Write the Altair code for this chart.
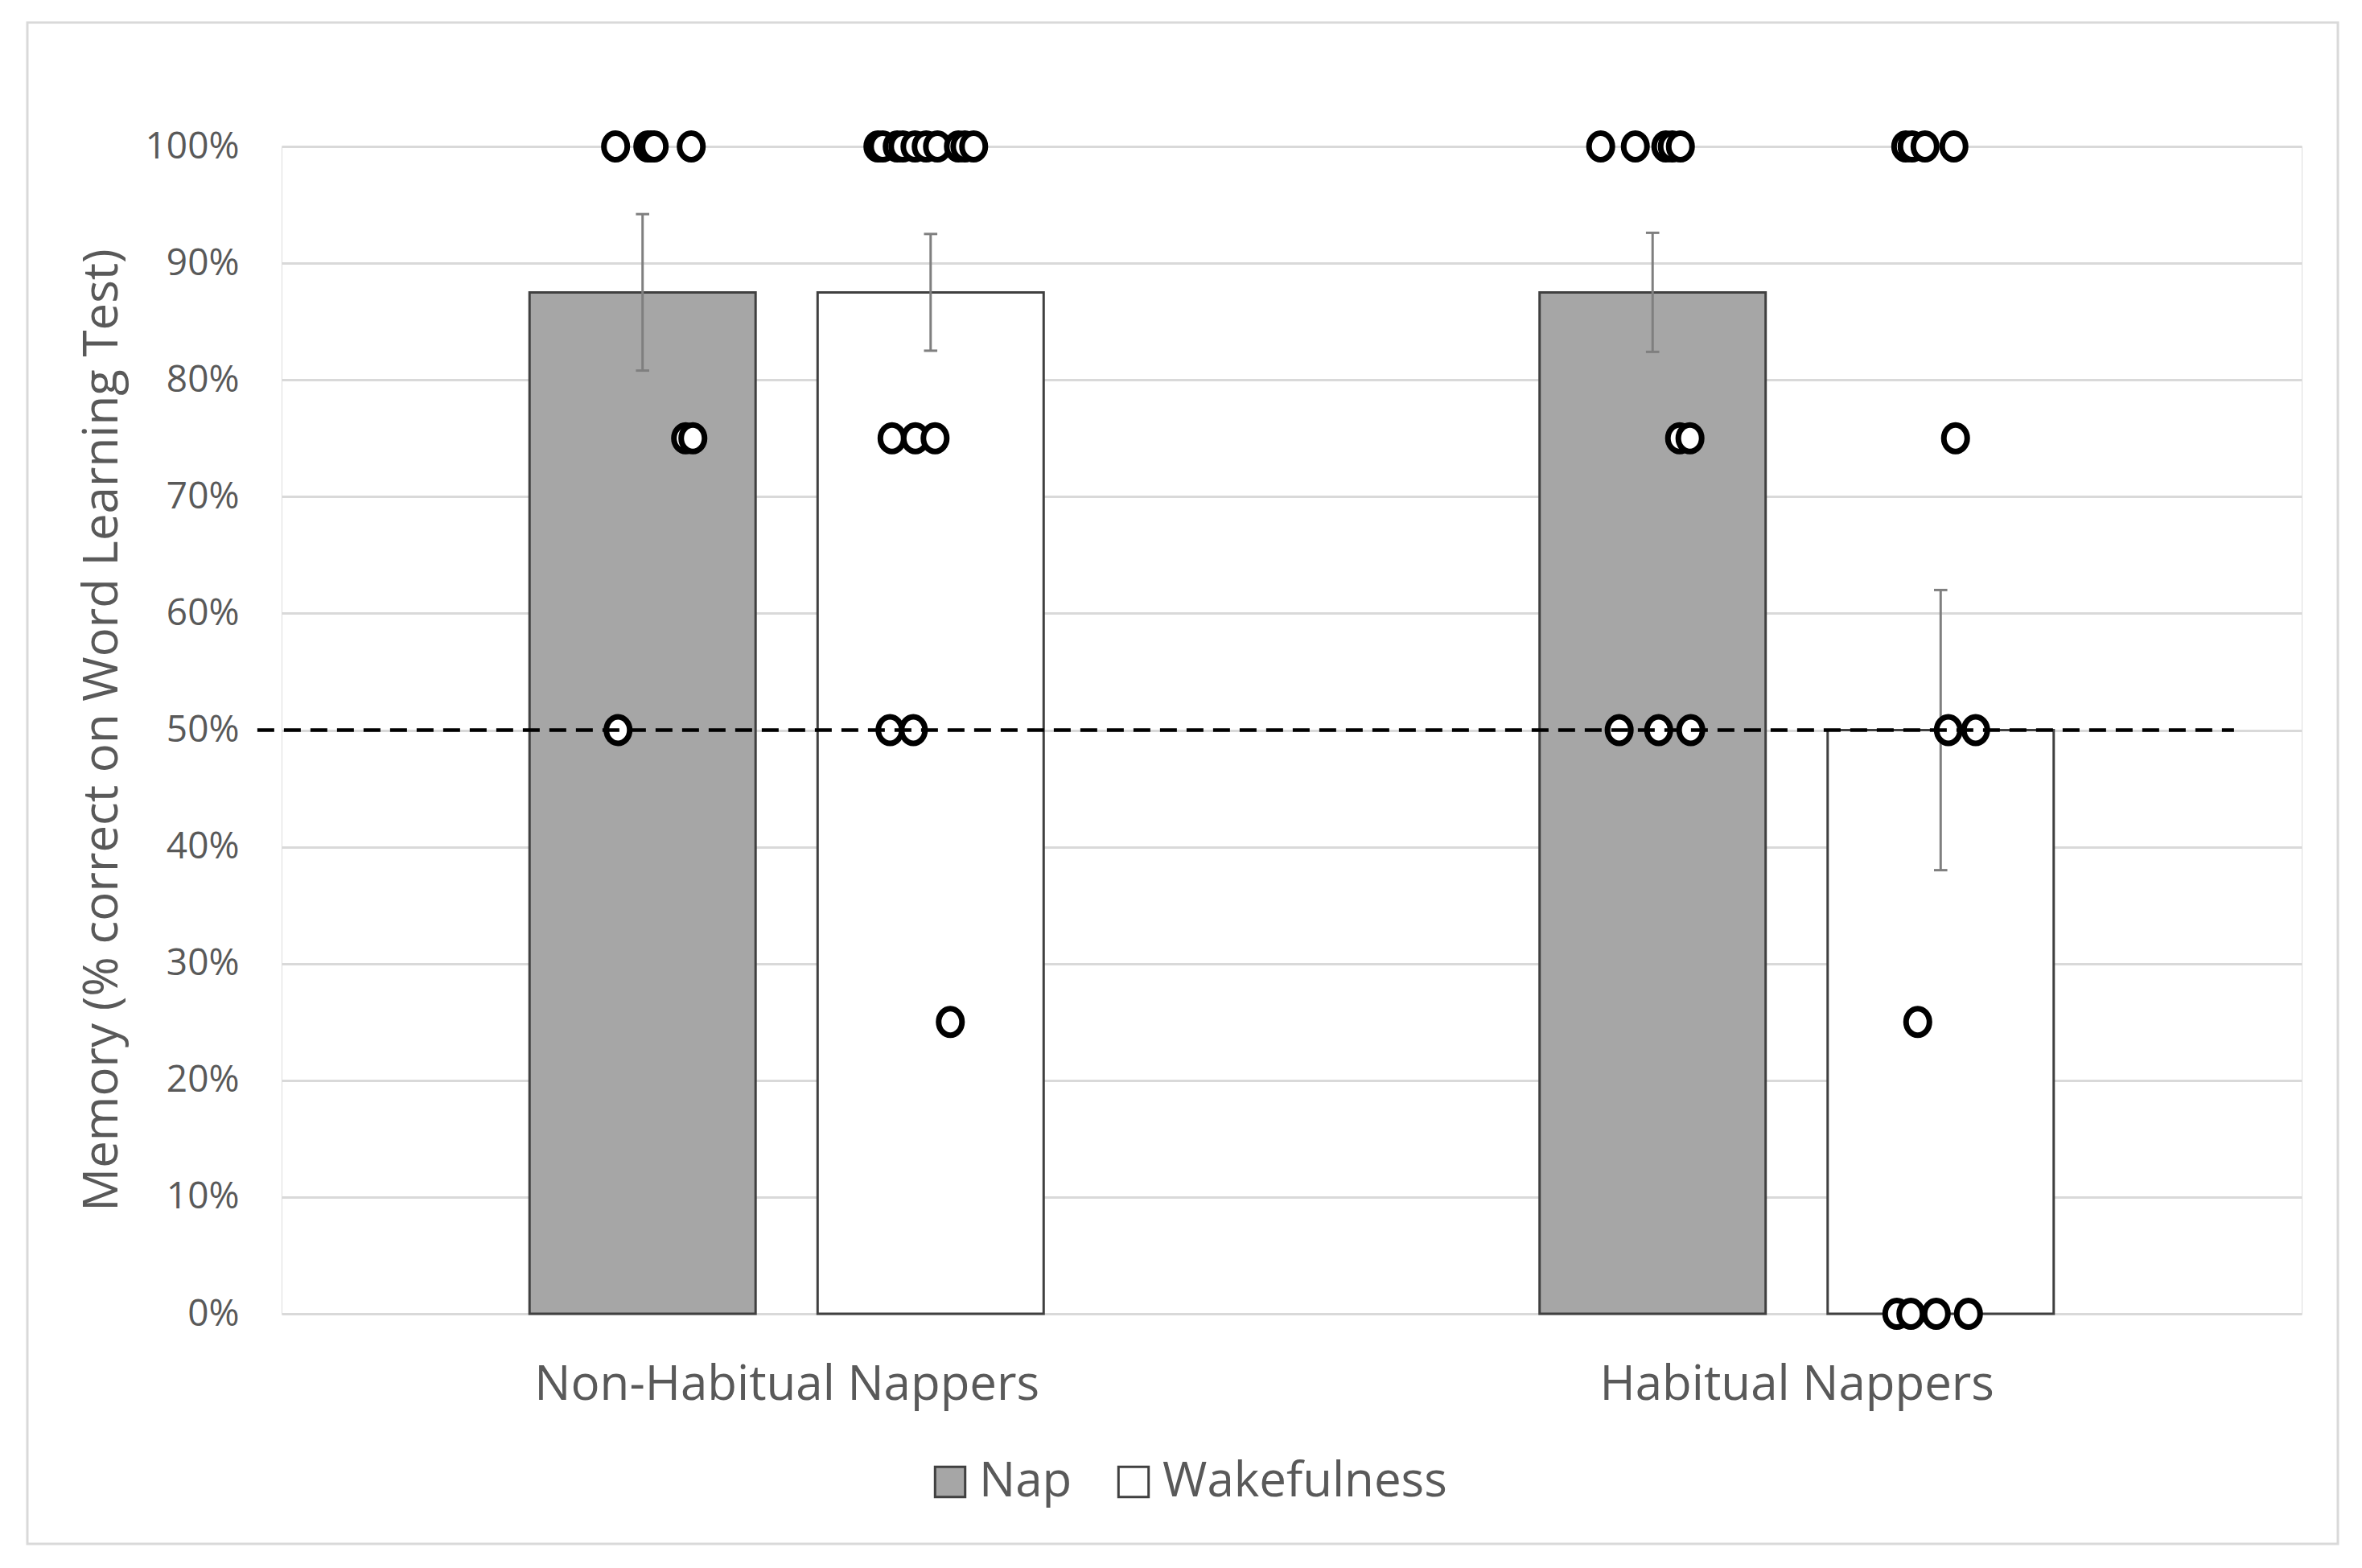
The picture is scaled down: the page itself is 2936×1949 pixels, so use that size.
import altair as alt
import pandas as pd

# ---------------- data ----------------
CATEGORIES = ["Non-Habitual Nappers", "Habitual Nappers"]
CONDITIONS = ["Nap", "Wakefulness"]

# group means and SEMs (order: NH-Nap, NH-Wake, H-Nap, H-Wake)
MEANS = [0.875, 0.875, 0.875, 0.50]
SEMS = [0.067, 0.050, 0.051, 0.120]

# individual scores per group
NH_NAP = [1.0, 1.0, 1.0, 1.0, 1.0, 0.75, 0.75, 0.5]
NH_WAKE = [1.0, 1.0, 1.0, 1.0, 1.0, 1.0, 1.0, 1.0, 1.0, 1.0,
           0.75, 0.75, 0.75, 0.5, 0.5, 0.25]
H_NAP = [1.0, 1.0, 1.0, 1.0, 1.0, 0.75, 0.75, 0.5, 0.5, 0.5]
H_WAKE = [1.0, 1.0, 1.0, 1.0, 0.75, 0.5, 0.5, 0.25, 0.0, 0.0, 0.0, 0.0]

# horizontal jitter of each dot (fraction of a category's width)
NH_NAP_JIT = [-0.0267, 0.0052, 0.0084, 0.0115, 0.0482, 0.0426, 0.0498, -0.0243]
NH_WAKE_JIT = [-0.0522, -0.0474, -0.0331, -0.0275, -0.0155, -0.0044, 0.0068,
               0.0275, 0.0339, 0.0426, -0.0382, -0.0151, 0.0044, -0.0402,
               -0.0171, 0.0195]
H_NAP_JIT = [-0.0514, -0.0171, 0.0131, 0.0195, 0.0275, 0.0267, 0.0370,
             -0.0331, 0.0060, 0.0378]
H_WAKE_JIT = [-0.0346, -0.0283, -0.0155, 0.0131, 0.0147, 0.0076, 0.0346,
              -0.0227, -0.0434, -0.0295, -0.0044, 0.0275]

CHANCE = 0.5
Y_TITLE = "Memory (% correct on Word Learning Test)"

# ---------------- layout constants ----------------
BAR_SHIFT = 0.1426   # bar centre offset from category centre
BAR_HALF = 0.1119    # half bar width
CAP_HALF = 0.0066    # half width of error-bar caps
FONT = "Open Sans"
TEXT = "#595959"

groups = [
    (CATEGORIES[0], CONDITIONS[0], NH_NAP, NH_NAP_JIT),
    (CATEGORIES[0], CONDITIONS[1], NH_WAKE, NH_WAKE_JIT),
    (CATEGORIES[1], CONDITIONS[0], H_NAP, H_NAP_JIT),
    (CATEGORIES[1], CONDITIONS[1], H_WAKE, H_WAKE_JIT),
]

bar_rows, pt_rows = [], []
for i, (cat, cond, scores, jit) in enumerate(groups):
    ci = CATEGORIES.index(cat) + 0.5
    centre = ci + (-BAR_SHIFT if cond == CONDITIONS[0] else BAR_SHIFT)
    bar_rows.append(dict(category=cat, condition=cond, mean=MEANS[i],
                         lo=MEANS[i] - SEMS[i], hi=MEANS[i] + SEMS[i],
                         centre=centre, left=centre - BAR_HALF,
                         right=centre + BAR_HALF,
                         capl=centre - CAP_HALF, capr=centre + CAP_HALF))
    for s, j in zip(scores, jit):
        pt_rows.append(dict(category=cat, condition=cond, score=s, x=centre + j))

bars_df = pd.DataFrame(bar_rows)
pts_df = pd.DataFrame(pt_rows)

xscale = alt.Scale(domain=[0, 2], nice=False, zero=False)
yscale = alt.Scale(domain=[0, 1], nice=False)

label_expr = "datum.value < 1 ? '%s' : '%s'" % (CATEGORIES[0], CATEGORIES[1])

x_axis = alt.Axis(values=[0.5, 1.5], labelExpr=label_expr, grid=False,
                  ticks=False, domain=False, title=None, labelFontSize=60,
                  labelColor=TEXT, labelFont=FONT, labelPadding=88,
                  labelBaseline="middle", labelLimit=0)
y_axis = alt.Axis(values=[i / 10 for i in range(11)], format=".0%",
                  domain=False, ticks=False, grid=True, gridColor="#D9D9D9",
                  gridWidth=3, labelFontSize=46, labelColor=TEXT,
                  labelFont=FONT, labelPadding=53, title=Y_TITLE,
                  titleFontSize=60, titleFont=FONT, titleColor=TEXT,
                  titleFontWeight="normal", titleX=-223, titleY=725,
                  titleAngle=270, titleBaseline="middle", titleAlign="center",
                  titleLimit=0)

border = alt.Chart(alt.Data(values=[{"k": 1}])).mark_rect(
    fill="transparent", stroke="#D9D9D9", strokeWidth=3
).encode(x=alt.value(-316), x2=alt.value(2556), y=alt.value(-154),
         y2=alt.value(1737))

bars = alt.Chart(bars_df).mark_rect(stroke="#404040", strokeWidth=3).encode(
    x=alt.X("left:Q", scale=xscale, axis=x_axis),
    x2="right:Q",
    y=alt.Y("mean:Q", scale=yscale, axis=y_axis),
    y2=alt.Y2(datum=0),
    color=alt.Color("condition:N",
                    scale=alt.Scale(domain=CONDITIONS, range=["#A6A6A6", "#FFFFFF"]),
                    legend=alt.Legend(orient="none", legendX=801, legendY=1630,
                                      direction="horizontal", columns=2,
                                      title=None, symbolType="square",
                                      symbolSize=1400, symbolStrokeColor="#404040",
                                      symbolStrokeWidth=3, labelFontSize=60,
                                      labelColor=TEXT, labelFont=FONT,
                                      labelOffset=6, columnPadding=46,
                                      labelLimit=0)),
)

err = alt.Chart(bars_df).mark_rule(color="#7F7F7F", strokeWidth=3).encode(
    x="centre:Q", y="lo:Q", y2="hi:Q")
cap_lo = alt.Chart(bars_df).mark_rule(color="#7F7F7F", strokeWidth=3).encode(
    x="capl:Q", x2="capr:Q", y="lo:Q")
cap_hi = alt.Chart(bars_df).mark_rule(color="#7F7F7F", strokeWidth=3).encode(
    x="capl:Q", x2="capr:Q", y="hi:Q")

ELLIPSE = "M-0.88,0A0.88,1,0,1,0,0.88,0A0.88,1,0,1,0,-0.88,0Z"
points = alt.Chart(pts_df).mark_point(
    shape=ELLIPSE, size=1089, filled=True, fill="white", stroke="black",
    strokeWidth=7, opacity=1
).encode(x="x:Q", y="score:Q")

chance = alt.Chart(alt.Data(values=[{"y": CHANCE, "a": -0.024, "b": 1.933}])).mark_rule(
    color="black", strokeWidth=4.5, strokeDash=[21, 12]
).encode(x="a:Q", x2="b:Q", y="y:Q")

chart = alt.layer(border, bars, err, cap_lo, cap_hi, points, chance).properties(
    width=2511, height=1451,
    autosize=alt.AutoSizeParams(type="none"),
    padding={"left": 342, "top": 174, "right": 60, "bottom": 290},
    background="white",
).configure_view(strokeWidth=0).configure(font=FONT)

chart.save("out.html", embed_options={"renderer": "svg", "actions": False})
